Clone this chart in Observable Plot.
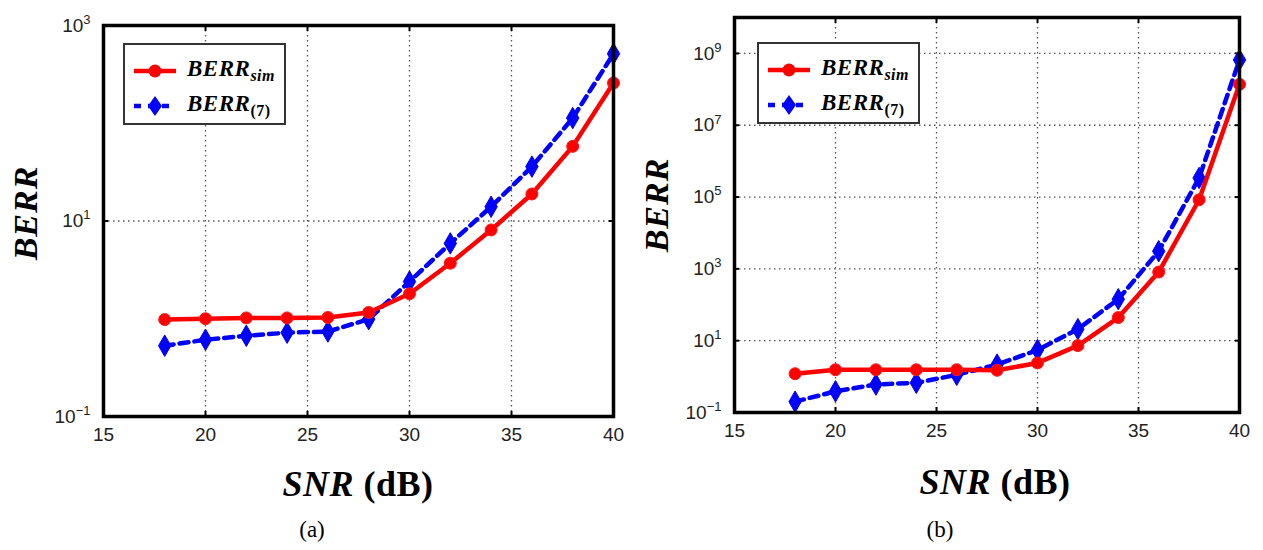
<!DOCTYPE html>
<html>
<head>
<meta charset="utf-8">
<script src="https://cdn.jsdelivr.net/npm/d3@7"></script>
<script src="https://cdn.jsdelivr.net/npm/@observablehq/plot@0.6"></script>
<style>
  body { margin: 0; background: #fff; }
  #root { position: relative; width: 1263px; height: 550px; overflow: hidden; background: #fff; }
  .panel { position: absolute; top: 0; }
  .ytitle { position: absolute; font-family: "Liberation Serif", serif; font-weight: bold; font-style: italic; font-size: 34px; transform: translate(-50%, -50%) rotate(-90deg); white-space: nowrap; letter-spacing: 1px; }
  .xtitle { position: absolute; font-family: "Liberation Serif", serif; font-weight: bold; font-size: 36px; transform: translate(-50%, -50%); white-space: nowrap; letter-spacing: 0.5px; }
  .xtitle i { font-style: italic; }
  .cap { position: absolute; font-family: "Liberation Serif", serif; font-size: 23px; transform: translate(-50%, -50%); }
  .legend { position: absolute; background: #fff; border: 2px solid #333; box-sizing: border-box; }
  .legend .row { position: absolute; left: 8px; display: flex; align-items: center; }
  .legend .lab { font-family: "Liberation Serif", serif; font-weight: bold; font-style: italic; font-size: 23px; margin-left: 10px; white-space: nowrap; letter-spacing: 0.5px; }
  .legend sub { font-size: 16px; vertical-align: -5px; }
  .legend sub.up { font-style: normal; font-weight: bold; }
</style>
</head>
<body>
<div id="root"></div>
<script>
// ---- data ----
const snr = [18, 20, 22, 24, 26, 28, 30, 32, 34, 36, 38, 40];
const berrSimA = [0.98, 1.0, 1.02, 1.02, 1.03, 1.16, 1.8, 3.7, 8.1, 18.9, 58, 258];
const berr7A   = [0.53, 0.61, 0.67, 0.72, 0.74, 0.99, 2.4, 5.9, 14, 36, 113, 514];
const berrSimB = [1.2, 1.55, 1.55, 1.55, 1.55, 1.5, 2.4, 7.3, 44, 815, 84000, 1.38e8];
const berr7B   = [0.2, 0.39, 0.6, 0.67, 1.12, 2.16, 5.5, 21, 143, 3100, 3.4e5, 6.6e8];
const xTicks = [15, 20, 25, 30, 35, 40];
const xGrid = [20, 25, 30, 35];
const yTicksA = [0.1, 10, 1000];
const yGridA = [10];
const yTicksB = [0.1, 10, 1e3, 1e5, 1e7, 1e9];
const yGridB = [10, 1e3, 1e5, 1e7, 1e9];
const yDomainA = [0.1, 1000];
const yDomainB = [0.1, 1e10];
const seriesNames = ["BERR_sim", "BERR_(7)"];
const captions = ["(a)", "(b)"];

const root = document.getElementById("root");

function makePanel(cfg) {
  const simRows = snr.map((x, i) => ({x, y: cfg.sim[i]}));
  const eqRows = snr.map((x, i) => ({x, y: cfg.eq[i]}));
  const grid = {stroke: "#555", strokeOpacity: 1, strokeWidth: 1.3, strokeDasharray: "1.5,3.5"};
  const plot = Plot.plot({
    width: cfg.width, height: 460,
    marginLeft: cfg.ml, marginRight: cfg.mr, marginTop: cfg.mt, marginBottom: cfg.mb,
    style: {fontFamily: "'Liberation Sans', Arial, sans-serif", fontSize: "20px", color: "#222", background: "transparent"},
    x: {domain: [15, 40]},
    y: {type: "log", domain: cfg.ydomain},
    marks: [
      Plot.gridX(xGrid, grid),
      Plot.gridY(cfg.ygrid, grid),
      Plot.axisX(xTicks, {anchor: "bottom", tickSize: 0, tickPadding: 11, label: null, tickFormat: d => String(d)}),
      Plot.axisX(xTicks, {anchor: "bottom", tickSize: -5, strokeWidth: 2, stroke: "#000", tickFormat: () => "", label: null}),
      Plot.axisX(xTicks, {anchor: "top", tickSize: -5, strokeWidth: 2, stroke: "#000", tickFormat: () => "", label: null}),
      Plot.axisY(cfg.yticks, {anchor: "left", tickSize: 0, tickPadding: 13, label: null, tickFormat: d => "10^" + Math.round(Math.log10(d))}),
      Plot.axisY(cfg.yticks, {anchor: "left", tickSize: -5, strokeWidth: 2, stroke: "#000", tickFormat: () => "", label: null}),
      Plot.axisY(cfg.yticks, {anchor: "right", tickSize: -5, strokeWidth: 2, stroke: "#000", tickFormat: () => "", label: null}),
      Plot.line(eqRows, {x: "x", y: "y", stroke: "#0000ff", strokeWidth: 4.5, strokeDasharray: "9,6"}),
      Plot.dot(eqRows, {x: "x", y: "y", symbol: "diamond", r: 6.5, fill: "#0000ff", stroke: "#0000ff", strokeWidth: 1}),
      Plot.line(simRows, {x: "x", y: "y", stroke: "#ff0000", strokeWidth: 4.5}),
      Plot.dot(simRows, {x: "x", y: "y", symbol: "circle", r: 6, fill: "#ff0000", stroke: "#ff1a1a", strokeWidth: 1}),
      Plot.frame({stroke: "#000", strokeWidth: 3.5})
    ]
  });
  const sel = d3.select(plot);
  sel.selectAll("text")
    .attr("font-size", 19)
    .style("font-size", "19px")
    .style("font-family", "'Liberation Sans', Arial, sans-serif")
    .attr("fill", "#222");
  // superscript exponents on y tick labels
  sel.selectAll('g[aria-label="y-axis tick label"] text').each(function() {
    const t = d3.select(this);
    const s = t.text();
    if (!s.startsWith("10^")) return;
    const e = s.slice(3).replace("-", "\u2212");
    t.text("");
    t.append("tspan").text("10");
    t.append("tspan").attr("dy", "-0.6em").style("font-size", "13px").text(e);
  });
  const wrap = document.createElement("div");
  wrap.className = "panel";
  wrap.style.left = cfg.left + "px";
  wrap.appendChild(plot);
  root.appendChild(wrap);

  const yt = document.createElement("div");
  yt.className = "ytitle";
  yt.style.left = cfg.ytX + "px"; yt.style.top = cfg.ytY + "px";
  yt.textContent = "BERR";
  root.appendChild(yt);

  const xt = document.createElement("div");
  xt.className = "xtitle";
  xt.style.left = cfg.xtX + "px"; xt.style.top = cfg.xtY + "px";
  xt.innerHTML = "<i>SNR</i> (dB)";
  root.appendChild(xt);

  const cap = document.createElement("div");
  cap.className = "cap";
  cap.style.left = cfg.capX + "px"; cap.style.top = "530px";
  cap.textContent = cfg.caption;
  root.appendChild(cap);

  const lg = document.createElement("div");
  lg.className = "legend";
  lg.style.left = cfg.lgX + "px"; lg.style.top = cfg.lgY + "px";
  lg.style.width = "163px"; lg.style.height = "82px";
  const sw1 = `<svg width="44" height="20"><line x1="1" y1="10" x2="43" y2="10" stroke="#ff0000" stroke-width="4.5"/><circle cx="22" cy="10" r="6.5" fill="#ff0000"/></svg>`;
  const sw2 = `<svg width="44" height="22"><line x1="1" y1="11" x2="43" y2="11" stroke="#0000ff" stroke-width="4.5" stroke-dasharray="7,7"/><path d="M22,1 L29,11 L22,21 L15,11 Z" fill="#0000ff"/></svg>`;
  const [n1, s1] = seriesNames[0].split("_");
  const [n2, s2] = seriesNames[1].split("_");
  lg.innerHTML =
    `<div class="row" style="top:11px">${sw1}<span class="lab">${n1}<sub>${s1}</sub></span></div>` +
    `<div class="row" style="top:46px">${sw2}<span class="lab">${n2}<sub class="up">${s2}</sub></span></div>`;
  root.appendChild(lg);
}

makePanel({
  left: 0, width: 630, ml: 103, mr: 17, mt: 25, mb: 44,
  ydomain: yDomainA, yticks: yTicksA, ygrid: yGridA,
  sim: berrSimA, eq: berr7A,
  ytX: 26, ytY: 213, xtX: 358, xtY: 484, capX: 312, caption: captions[0],
  lgX: 123, lgY: 43
});
makePanel({
  left: 632, width: 631, ml: 102, mr: 24, mt: 17, mb: 48,
  ydomain: yDomainB, yticks: yTicksB, ygrid: yGridB,
  sim: berrSimB, eq: berr7B,
  ytX: 657, ytY: 205, xtX: 995, xtY: 482, capX: 940, caption: captions[1],
  lgX: 757, lgY: 42
});
</script>
</body>
</html>
